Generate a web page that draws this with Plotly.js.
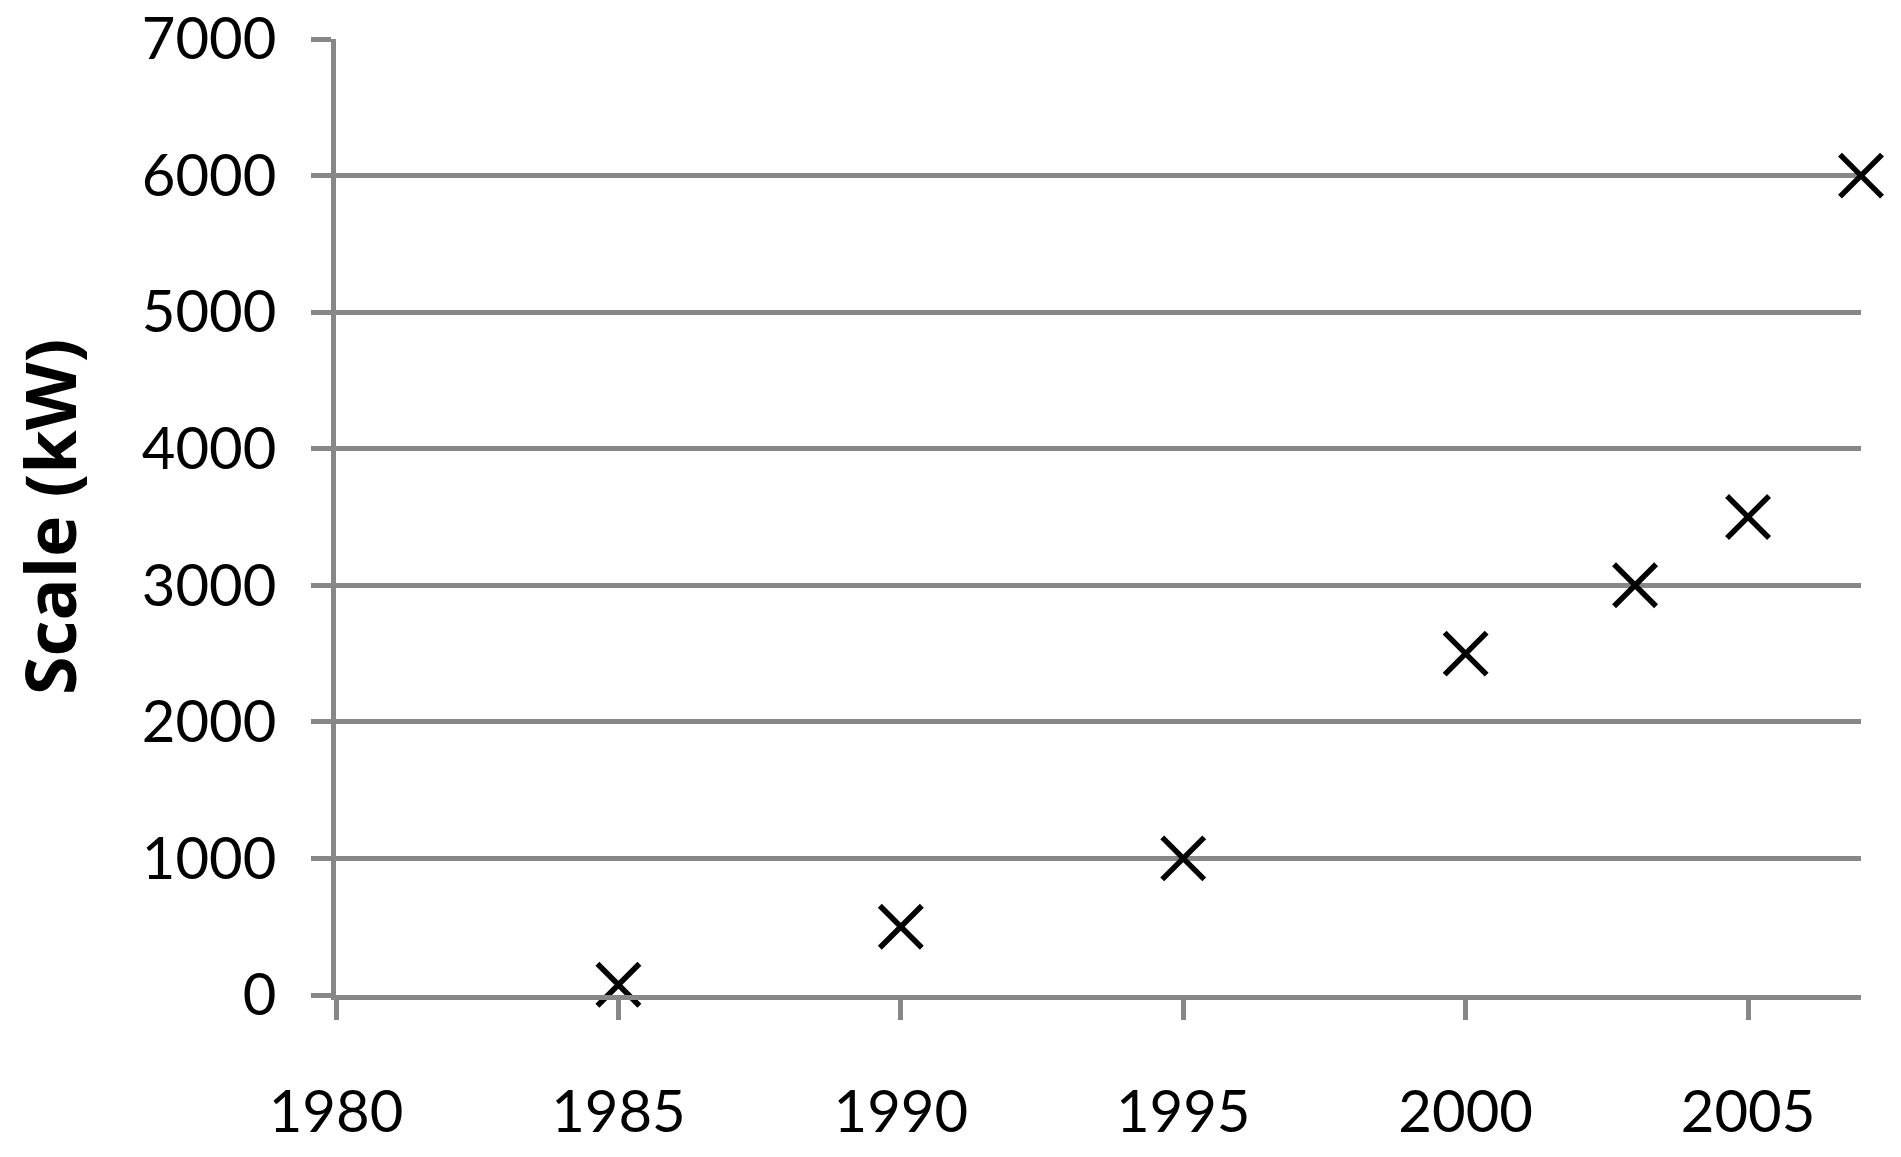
<!DOCTYPE html>
<html>
<head>
<meta charset="utf-8">
<script src="https://cdn.plot.ly/plotly-3.0.1.min.js"></script>
<style>
  html, body { margin: 0; padding: 0; background: #fff; }
  #plot { width: 1901px; height: 1157px; }
</style>
</head>
<body>
<div id="plot"></div>
<script>
// turbine scale by year
const years = [1985, 1990, 1995, 2000, 2003, 2005, 2007];
const scaleKW = [75, 500, 1000, 2500, 3000, 3500, 6000];

const xTicks = [1980, 1985, 1990, 1995, 2000, 2005];
const yTicks = [0, 1000, 2000, 3000, 4000, 5000, 6000, 7000];

const gray = '#878787';

const trace = {
  x: years,
  y: scaleKW,
  type: 'scatter',
  mode: 'markers',
  cliponaxis: false,
  hoverinfo: 'x+y',
  marker: {
    symbol: 'x-thin',
    size: 42,
    color: '#000',
    line: { color: '#000', width: 5.5 },
  },
};

const layout = {
  width: 1901,
  height: 1157,
  paper_bgcolor: '#fff',
  plot_bgcolor: '#fff',
  showlegend: false,
  margin: { l: 336, r: 40, t: 39, b: 162, pad: 0 },
  font: { family: 'Lato, "Open Sans", sans-serif', color: '#000' },
  xaxis: {
    range: [1980, 2007],
    tickvals: xTicks,
    ticktext: xTicks.map(String),
    showgrid: false,
    zeroline: false,
    showline: true,
    linecolor: gray,
    linewidth: 5,
    ticks: 'outside',
    ticklen: 20,
    tickwidth: 5,
    tickcolor: gray,
    ticklabelstandoff: 42,
    tickfont: { size: 58, family: 'Lato', color: '#000' },
  },
  yaxis: {
    range: [0, 7000],
    tickvals: yTicks,
    ticktext: yTicks.map(String),
    showgrid: true,
    gridcolor: gray,
    gridwidth: 5,
    zeroline: false,
    showline: true,
    linecolor: gray,
    linewidth: 5,
    ticks: 'outside',
    ticklen: 20,
    tickwidth: 5,
    tickcolor: gray,
    ticklabelstandoff: 23,
    tickfont: { size: 58, family: 'Lato', color: '#000' },
    title: {
      text: '<b>Scale (kW)</b>',
      standoff: 44,
      font: { size: 70, family: '"Open Sans", Lato, sans-serif', color: '#000' },
    },
  },
};

Plotly.newPlot('plot', [trace], layout, { staticPlot: true });
</script>
</body>
</html>
